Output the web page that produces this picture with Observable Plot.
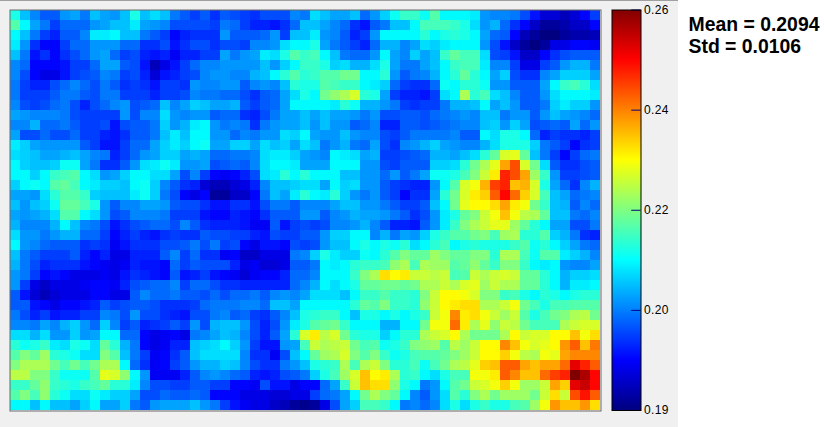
<!DOCTYPE html>
<html><head><meta charset="utf-8">
<script src="https://cdn.jsdelivr.net/npm/d3@7"></script>
<script src="https://cdn.jsdelivr.net/npm/@observablehq/plot@0.6"></script>
<style>
html,body{margin:0;padding:0;background:#fff;}
#page{position:relative;width:824px;height:427px;overflow:hidden;background:#fff;}
#panel{position:absolute;left:0;top:0;width:678px;height:427px;background:#f0f0f0;border-top:1px solid #a0a0a0;box-sizing:border-box;}
#heat,#bar{position:absolute;}
#heat{left:9px;top:9px;}
#bar{left:611px;top:0;}
#stats{position:absolute;left:688.5px;top:14px;font:bold 19.4px/21.5px "Liberation Sans",Arial,sans-serif;color:#000;white-space:pre;}
svg{display:block;overflow:visible;background:transparent!important;}
</style></head>
<body><div id="page"><div id="panel"></div><div id="heat"></div><div id="bar"></div>
<div id="stats">Mean = 0.2094
Std = 0.0106</div></div>
<script>
// heat values (thousandths), one array per image row, top to bottom
const r00=[218,212,208,205,205,209,210,207,212,210,209,212,218,212,214,212,207,205,203,205,202,205,204,203,202,204,204,204,208,207,214,212,210,210,212,206,209,213,217,220,220,217,222,216,216,216,215,209,208,208,207,204,200,196,196,194,196,199,203];
const r01=[222,216,210,207,203,206,206,206,209,210,212,212,215,210,209,208,204,204,204,204,203,207,206,203,201,201,200,202,206,212,212,210,208,206,202,200,205,207,212,212,216,221,221,221,220,218,214,209,211,206,202,199,195,192,192,193,195,195,199];
const r02=[216,212,207,203,201,205,205,208,215,215,216,212,212,207,205,203,199,201,202,202,202,209,205,205,205,206,209,203,212,212,215,209,208,205,201,203,209,216,216,216,216,219,216,218,219,218,216,210,206,205,199,194,192,190,190,192,193,193,194];
const r03=[215,209,202,199,199,203,206,206,209,209,209,206,206,202,202,204,200,202,204,204,202,204,204,203,208,208,209,214,216,216,218,210,207,205,203,201,206,211,211,208,210,214,213,215,216,216,216,209,204,200,195,192,190,192,197,197,199,199,198];
const r04=[212,207,200,202,199,202,204,206,209,210,206,203,204,201,200,201,198,201,201,203,203,210,207,209,210,215,214,218,222,220,221,216,212,207,206,206,209,216,210,208,213,210,212,220,223,221,221,214,204,203,200,195,195,199,202,204,205,205,205];
const r05=[208,206,199,199,199,200,203,203,206,210,210,205,204,200,194,197,200,203,206,208,208,209,209,209,209,212,209,213,216,220,220,218,213,214,211,211,214,218,210,207,207,210,212,216,220,221,221,215,208,208,203,197,197,203,205,209,211,211,207];
const r06=[208,204,199,197,197,200,203,204,205,208,207,203,204,201,196,200,201,203,204,208,209,209,208,208,211,212,216,219,222,219,220,222,222,224,224,216,216,219,209,205,207,208,211,216,219,223,219,216,210,213,204,202,202,208,210,213,213,213,210];
const r07=[207,203,201,201,204,206,208,206,204,207,205,202,203,202,200,203,203,202,209,208,208,209,209,205,208,209,208,212,219,218,218,222,221,220,220,216,215,213,206,203,202,202,206,217,216,219,219,217,209,209,205,205,205,210,216,220,221,219,214];
const r08=[207,203,203,203,205,207,207,205,204,207,207,203,203,203,201,203,203,204,208,207,207,206,206,204,202,205,206,210,214,218,216,224,226,228,231,219,218,210,203,201,201,200,203,214,216,228,219,221,214,212,208,205,205,209,214,216,216,216,215];
const r09=[208,204,203,204,206,207,204,201,204,206,208,209,204,205,206,212,208,210,213,212,210,210,211,205,203,205,206,210,216,216,216,216,215,219,217,211,211,209,207,203,202,203,203,207,211,211,212,216,210,212,209,205,205,207,213,215,213,213,209];
const r10=[210,209,208,208,208,207,204,203,203,203,203,209,204,208,208,214,209,208,209,209,205,206,206,202,201,204,207,210,210,212,210,212,210,210,209,207,209,204,204,205,205,204,206,207,208,209,208,212,212,207,209,209,205,209,212,210,209,208,206];
const r11=[208,208,211,206,206,207,205,203,203,204,200,204,205,205,207,213,209,211,215,216,209,207,208,207,202,207,209,210,210,212,209,212,209,209,205,206,208,201,201,205,205,204,205,206,207,208,208,212,213,209,213,210,204,205,206,205,210,206,209];
const r12=[210,204,204,206,204,204,206,203,203,201,200,202,205,205,207,212,215,212,216,216,209,209,206,208,207,209,209,214,213,216,210,209,209,212,209,208,208,204,203,205,207,207,207,207,208,205,205,216,214,218,218,216,206,201,203,202,202,201,203];
const r13=[215,213,210,209,209,209,209,205,203,200,200,203,206,206,210,213,215,213,216,217,210,210,213,213,210,214,212,213,210,214,212,207,209,211,207,206,210,204,202,208,209,211,213,210,209,208,208,211,214,218,218,218,213,207,205,203,199,202,203];
const r14=[214,213,212,210,210,211,212,210,208,207,201,203,206,209,210,213,213,210,211,210,206,206,207,207,208,214,215,215,213,210,209,208,216,215,214,210,211,203,203,204,205,206,211,211,210,212,214,219,223,231,232,223,212,207,203,199,203,206,207];
const r15=[216,213,212,212,213,217,217,210,207,202,202,205,209,214,215,217,215,209,209,210,204,205,206,205,208,214,216,216,215,210,210,210,216,216,216,209,209,204,203,205,205,205,213,213,214,219,224,228,232,240,246,231,224,214,205,202,202,204,205];
const r16=[216,216,213,216,220,221,222,216,214,209,210,213,216,216,214,214,210,204,208,203,199,198,199,201,204,214,215,219,216,219,216,216,216,212,212,209,209,206,209,205,207,210,217,217,218,221,225,230,235,249,246,240,227,220,209,203,203,204,205];
const r17=[213,216,217,216,222,223,221,216,215,213,213,212,216,217,213,208,205,202,201,196,194,194,196,197,201,208,212,212,213,214,214,210,216,213,214,209,209,205,203,202,201,201,209,216,222,231,233,239,247,249,238,239,231,218,210,206,202,208,211];
const r18=[210,210,209,214,219,222,222,220,213,212,212,212,215,217,213,207,204,199,197,199,192,192,195,195,199,207,212,210,215,219,216,215,219,213,209,207,209,205,203,199,202,202,210,219,224,231,235,237,245,251,244,237,231,221,212,210,206,207,208];
const r19=[212,209,212,213,217,223,223,221,218,209,205,208,208,210,210,209,205,204,204,202,200,200,202,202,200,204,207,207,205,208,208,208,210,212,212,209,209,207,205,203,203,205,212,216,224,232,234,234,236,240,235,233,224,220,212,211,205,208,206];
const r20=[210,209,210,211,214,222,222,216,214,209,204,205,208,208,208,207,203,203,203,200,199,199,201,200,199,202,205,205,205,209,209,205,208,209,211,210,210,209,207,205,202,204,209,215,218,223,225,230,233,238,233,229,228,223,212,212,207,206,208];
const r21=[211,208,208,208,211,216,212,208,207,204,200,202,204,205,206,206,204,208,205,202,201,201,201,200,198,198,205,200,203,204,203,204,208,208,209,211,208,205,201,201,200,205,209,215,220,225,228,230,232,232,227,223,219,216,210,210,204,204,207];
const r22=[214,209,209,207,209,211,211,206,206,203,199,201,203,201,200,202,203,202,202,205,204,204,203,203,201,200,204,203,203,205,205,209,213,213,216,216,208,211,207,210,209,213,218,220,222,222,224,225,221,227,228,219,219,222,213,211,207,202,201];
const r23=[216,209,208,206,205,205,205,202,203,202,198,200,202,202,202,204,204,205,207,204,207,203,204,199,197,200,200,199,204,203,204,209,212,212,216,218,216,218,217,219,214,216,219,221,216,218,219,218,218,218,220,222,217,219,216,213,210,207,206];
const r24=[212,207,205,203,203,203,205,201,199,201,197,197,201,201,201,205,208,203,206,202,202,198,199,195,195,197,197,197,207,208,213,218,215,213,213,217,216,219,222,225,223,223,227,225,223,223,225,225,219,228,228,221,217,222,222,215,213,211,208];
const r25=[211,207,204,201,202,202,202,200,199,198,197,198,201,200,200,199,206,203,205,204,204,204,201,197,198,196,196,197,205,205,207,216,215,216,219,220,220,221,226,228,221,228,227,227,222,223,226,223,220,225,225,220,216,215,216,209,208,208,210];
const r26=[209,207,203,199,200,199,197,197,197,198,197,200,202,201,200,199,205,200,201,203,200,199,198,196,198,199,199,201,206,206,208,216,216,216,220,225,228,236,234,235,230,230,229,230,221,222,230,228,230,231,230,223,223,219,216,211,213,213,214];
const r27=[209,203,197,195,197,197,197,198,199,199,198,201,204,205,206,206,208,203,206,206,204,202,202,201,201,201,201,201,206,208,211,216,214,216,218,223,223,224,224,223,224,228,228,230,228,231,232,227,230,228,228,223,223,219,216,211,215,215,216];
const r28=[205,200,196,194,196,197,197,197,199,199,197,197,205,208,206,206,207,205,205,204,206,204,206,206,207,205,208,209,208,210,214,214,214,212,216,220,220,222,220,220,219,225,230,234,234,233,231,225,225,220,221,218,216,219,218,216,218,219,219];
const r29=[205,205,200,199,197,199,199,200,201,205,203,204,205,205,204,202,202,202,203,206,207,207,207,208,208,206,212,212,210,216,216,216,216,216,219,223,222,225,220,220,219,226,230,234,235,236,236,228,228,230,233,224,221,218,221,221,222,222,222];
const r30=[207,204,201,203,200,201,201,203,203,208,207,204,209,204,204,202,201,200,204,204,207,208,205,206,203,202,205,208,212,218,219,220,220,216,212,218,218,216,218,216,218,220,230,233,242,235,236,233,230,227,230,222,218,221,224,225,228,229,224];
const r31=[208,208,207,210,208,211,213,209,206,213,208,203,205,201,202,203,205,203,209,204,211,212,212,209,204,201,204,209,215,218,222,223,224,220,216,216,216,211,211,216,216,224,233,233,244,235,228,232,226,230,229,224,221,221,221,228,230,231,231];
const r32=[214,214,211,214,209,209,213,209,210,216,216,206,206,199,197,198,199,197,207,208,210,212,211,208,204,201,205,210,219,231,235,229,231,224,219,218,218,213,216,219,219,228,230,231,234,228,224,224,224,228,234,230,231,231,234,234,238,233,236];
const r33=[219,217,218,220,215,214,218,217,214,223,219,211,207,199,197,198,201,201,212,213,214,216,213,209,203,200,200,209,210,221,230,228,229,230,224,221,222,217,218,220,225,226,227,222,229,227,230,234,234,242,238,233,231,232,234,241,245,238,243];
const r34=[222,225,223,227,219,218,217,214,214,225,222,212,207,203,198,199,202,205,212,214,214,214,214,208,202,202,198,204,212,216,223,227,228,231,225,222,225,220,217,218,221,222,222,223,225,227,230,234,234,237,233,229,228,233,232,240,242,242,242];
const r35=[225,228,228,228,224,221,224,221,224,228,228,216,206,202,198,199,203,205,209,211,211,213,212,208,204,202,202,207,209,212,218,219,220,228,221,228,230,225,219,219,221,217,221,224,228,229,232,237,238,245,245,240,238,240,240,244,253,249,245];
const r36=[229,229,225,225,220,217,217,217,222,232,231,226,216,209,198,198,198,201,205,208,209,208,206,205,201,200,201,204,205,207,213,218,221,227,231,238,234,235,228,219,220,216,214,218,221,221,233,233,235,245,242,238,238,244,247,249,260,257,251];
const r37=[220,220,223,226,220,219,218,220,221,223,219,219,215,208,204,204,203,203,205,205,203,203,199,199,198,204,200,200,197,199,199,206,210,220,230,238,236,236,226,218,216,207,209,216,222,224,230,231,233,237,233,227,227,230,240,237,253,255,251];
const r38=[222,225,221,226,219,217,214,214,217,215,213,213,210,204,204,206,205,205,206,205,199,199,199,197,197,197,196,196,197,197,203,206,207,210,216,224,228,225,223,216,208,205,209,214,222,219,225,228,224,227,227,227,224,230,236,230,246,250,245];
const r39=[216,216,212,216,212,212,210,213,216,210,210,213,207,205,209,210,210,210,212,209,207,203,200,198,197,197,195,194,192,191,192,197,204,210,213,221,221,220,216,207,208,206,208,214,218,214,218,220,218,218,221,222,227,233,241,238,238,241,236];

const rows=[r00,r01,r02,r03,r04,r05,r06,r07,r08,r09,r10,r11,r12,r13,r14,r15,r16,r17,r18,r19,r20,r21,r22,r23,r24,r25,r26,r27,r28,r29,r30,r31,r32,r33,r34,r35,r36,r37,r38,r39];

const colorDomain=[0.19,0.26];
const tickValues=[0.19,0.2075,0.225,0.2425,0.26];
const tickLabels=["0.19","0.20","0.22","0.24","0.26"];
const jetStops=["#000080","#0000ff","#0080ff","#00ffff","#80ff80","#ffff00","#ff8000","#ff0000","#800000"];
const jet=d3.piecewise(d3.interpolateRgb,jetStops);

const cells=rows.flatMap((r,row)=>r.map((v,col)=>({row,col,v:v/1000})));

const heat=Plot.plot({
  width:592,height:402,margin:1,
  x:{type:"band",domain:d3.range(59),padding:0,axis:null,round:false},
  y:{type:"band",domain:d3.range(40),padding:0,axis:null,round:false},
  color:{type:"linear",domain:colorDomain,interpolate:jet,clamp:true},
  marks:[
    Plot.cell(cells,{x:"col",y:"row",fill:"v",shapeRendering:"crispEdges"}),
    Plot.frame({inset:-0.5,stroke:"#6a6a6a"})
  ]
});
document.getElementById("heat").append(heat);

const steps=d3.range(401).map(i=>({
  a:colorDomain[0]+(colorDomain[1]-colorDomain[0])*i/401,
  b:colorDomain[0]+(colorDomain[1]-colorDomain[0])*(i+1)/401
}));
const bar=Plot.plot({
  width:70,height:420,marginLeft:0.5,marginRight:40.5,marginTop:9.5,marginBottom:10,
  style:{fontFamily:"'Liberation Sans',Arial,sans-serif",fontSize:"12px",color:"#000",overflow:"visible",letterSpacing:"0.35px"},
  x:{domain:[0,1],axis:null},
  y:{domain:colorDomain,axis:null},
  color:{type:"linear",domain:colorDomain,interpolate:jet},
  marks:[
    Plot.rect(steps,{x1:0,x2:1,y1:"a",y2:"b",fill:d=>(d.a+d.b)/2,shapeRendering:"crispEdges"}),
    Plot.ruleY(tickValues,{x1:0.68,x2:1,stroke:"#00007f"}),
    Plot.frame({stroke:"#000"}),
    Plot.axisY(tickValues,{anchor:"right",tickSize:0,tickPadding:3,label:null,fill:"#000",
      tickFormat:d=>tickLabels[tickValues.indexOf(d)]})
  ]
});
document.getElementById("bar").append(bar);
</script></body></html>
